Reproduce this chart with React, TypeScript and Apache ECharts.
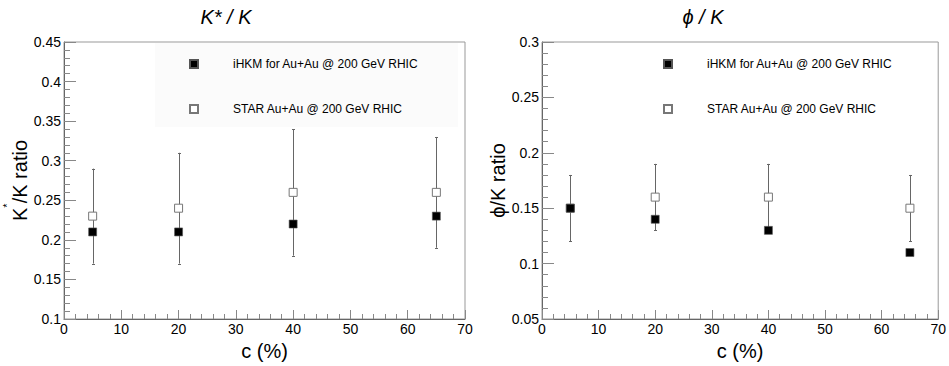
import React, { useEffect, useRef } from "react";
import * as echarts from "echarts";

const centrality = [5, 20, 40, 65];
const kstarIHKM = [0.21, 0.21, 0.22, 0.23];
const kstarSTAR = [0.23, 0.24, 0.26, 0.26];
const kstarSTARErr = [0.06, 0.07, 0.08, 0.07];
const phiIHKM = [0.15, 0.14, 0.13, 0.11];
const phiSTAR = [0.15, 0.16, 0.16, 0.15];
const phiSTARErr = [0.03, 0.03, 0.03, 0.03];

const nameIHKM = "iHKM for Au+Au @ 200 GeV RHIC";
const nameSTAR = "STAR Au+Au @ 200 GeV RHIC";

const FONT = "'Liberation Sans', Arial, Helvetica, sans-serif";

function errorRender(params: any, api: any) {
  const x = api.value(0);
  const lo = api.coord([x, api.value(1)]);
  const hi = api.coord([x, api.value(2)]);
  const px = Math.round(lo[0]) + 0.5;
  const style = { stroke: "#666", lineWidth: 1 };
  return {
    type: "group",
    children: [
      { type: "line", shape: { x1: px, y1: lo[1], x2: px, y2: hi[1] }, style },
      { type: "line", shape: { x1: px - 1.5, y1: Math.round(lo[1]) + 0.5, x2: px + 1.5, y2: Math.round(lo[1]) + 0.5 }, style },
      { type: "line", shape: { x1: px - 1.5, y1: Math.round(hi[1]) + 0.5, x2: px + 1.5, y2: Math.round(hi[1]) + 0.5 }, style },
    ],
  };
}

function xAxisCfg(gridIndex: number) {
  return {
    type: "value",
    gridIndex,
    min: 0,
    max: 70,
    interval: 10,
    axisLine: { show: true, lineStyle: { color: "#666", width: 1 } },
    axisTick: { show: true, inside: true, length: 9, lineStyle: { color: "#888" } },
    minorTick: { show: true, splitNumber: 5, length: 5, lineStyle: { color: "#888" } },
    splitLine: { show: false },
    axisLabel: { fontSize: 14, color: "#000", margin: 3, fontFamily: FONT },
    name: "c (%)",
    nameLocation: "middle",
    nameGap: 22,
    nameTextStyle: { fontSize: 20, color: "#000", fontFamily: FONT },
  };
}

function yAxisCfg(gridIndex: number, min: number, max: number, name: string, rich: any, gap: number) {
  return {
    type: "value",
    gridIndex,
    min,
    max,
    interval: 0.05,
    axisLine: { show: true, lineStyle: { color: "#666", width: 1 } },
    axisTick: { show: true, inside: true, length: 12, lineStyle: { color: "#888" } },
    minorTick: { show: true, splitNumber: 5, length: 6, lineStyle: { color: "#888" } },
    splitLine: { show: false },
    axisLabel: { fontSize: 14, color: "#000", margin: 3, fontFamily: FONT },
    name,
    nameLocation: "middle",
    nameGap: gap,
    nameTextStyle: { fontSize: 20, color: "#000", fontFamily: FONT, rich },
  };
}

function panelSeries(idx: number, ihkm: number[], star: number[], err: number[]) {
  return [
    {
      type: "custom",
      xAxisIndex: idx,
      yAxisIndex: idx,
      renderItem: errorRender,
      encode: { x: 0, y: [1, 2] },
      data: centrality.map((c, i) => [c, star[i] - err[i], star[i] + err[i]]),
      z: 2,
      silent: true,
    },
    {
      type: "scatter",
      name: nameSTAR,
      xAxisIndex: idx,
      yAxisIndex: idx,
      symbol: "rect",
      symbolSize: 8,
      itemStyle: { color: "#fff", borderColor: "#777", borderWidth: 1, opacity: 1 },
      data: centrality.map((c, i) => [c, star[i]]),
      z: 3,
    },
    {
      type: "scatter",
      name: nameIHKM,
      xAxisIndex: idx,
      yAxisIndex: idx,
      symbol: "rect",
      symbolSize: 8,
      itemStyle: { color: "#000", borderColor: "#555", borderWidth: 0.6, opacity: 1 },
      data: centrality.map((c, i) => [c, ihkm[i]]),
      z: 4,
    },
  ];
}

function legendCfg(left: number) {
  return {
    left,
    top: 58,
    orient: "vertical",
    padding: 0,
    itemGap: 33,
    itemWidth: 8,
    itemHeight: 8,
    icon: "rect",
    data: [nameIHKM, nameSTAR],
    textStyle: { fontSize: 12, color: "#000", fontFamily: FONT, padding: [0, 0, 0, 30] },
    selectedMode: false,
  };
}

export default function App() {
  const ref = useRef<HTMLDivElement>(null);
  useEffect(() => {
    if (!ref.current) return;
    const chart = echarts.init(ref.current, null, { renderer: "svg" });
    const starRich = {
      k: { fontSize: 20, fontFamily: FONT, color: "#000", verticalAlign: "bottom", lineHeight: 28 },
      s: { fontSize: 11, fontFamily: FONT, color: "#000", verticalAlign: "top", lineHeight: 11 },
    };
    chart.setOption({
      animation: false,
      backgroundColor: "#fff",
      textStyle: { fontFamily: FONT },
      grid: [
        { left: 64, top: 42, width: 401, height: 284, show: true, borderColor: "#999", borderWidth: 1, backgroundColor: "transparent" },
        { left: 542, top: 42, width: 401, height: 284, show: true, borderColor: "#999", borderWidth: 1, backgroundColor: "transparent" },
      ],
      xAxis: [xAxisCfg(0), xAxisCfg(1)],
      yAxis: [
        yAxisCfg(0, 0.1, 0.45, "{k|K}{s|*}{k|/K ratio}", starRich, 27),
        yAxisCfg(1, 0.05, 0.3, "ϕ/K ratio", undefined, 30),
      ],
      legend: [legendCfg(189), legendCfg(663)],
      graphic: [
        {
          type: "rect",
          shape: { x: 155, y: 43, width: 303, height: 84 },
          style: { fill: "#fbfbfb" },
          z: -10,
          silent: true,
        },
        {
          type: "text",
          x: 226,
          y: 17,
          style: { text: "K* / K", fontSize: 20, fontStyle: "italic", fontFamily: FONT, fill: "#000", align: "center", verticalAlign: "middle" },
        },
        {
          type: "text",
          x: 703,
          y: 17,
          style: { text: "ϕ / K", fontSize: 20, fontStyle: "italic", fontFamily: FONT, fill: "#000", align: "center", verticalAlign: "middle" },
        },
      ],
      series: [
        ...panelSeries(0, kstarIHKM, kstarSTAR, kstarSTARErr),
        ...panelSeries(1, phiIHKM, phiSTAR, phiSTARErr),
      ],
    });
    return () => chart.dispose();
  }, []);
  return (
    <div
      ref={ref}
      style={{ position: "fixed", left: 0, top: 0, width: 949, height: 366 }}
    />
  );
}
